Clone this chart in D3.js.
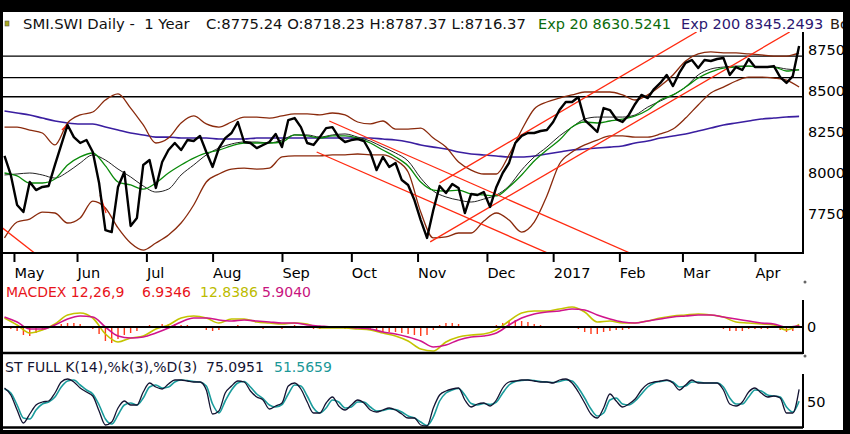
<!DOCTYPE html>
<html>
<head>
<meta charset="utf-8">
<script src="https://cdn.jsdelivr.net/npm/d3@7"></script>
<style>
body { margin: 0; background: #000; }
svg { display: block; font-family: "DejaVu Sans", Verdana, sans-serif; }
text { white-space: pre; }
</style>
</head>
<body>
<svg width="850" height="434"></svg>
<script>
// trading-day index 0 = 27 Apr 2016, closes read every 2 trading days
var closeStep = 2;
var closes = [
  8104, 7988, 7805, 7762, 7945, 7896, 7915, 7921, 8049, 8171,
  8293, 8219, 8183, 8201, 8128, 7939, 7652, 7640, 7915, 8006,
  7677, 7726, 8049, 8079, 7909, 8067, 8140, 8183, 8140, 8201,
  8195, 8226, 8128, 8037, 8152, 8213, 8244, 8311, 8189, 8183,
  8152, 8171, 8189, 8238, 8158, 8323, 8335, 8280, 8183, 8171,
  8219, 8274, 8280, 8219, 8189, 8201, 8207, 8195, 8128, 8018,
  8098, 8037, 8061, 7957, 7927, 7835, 7713, 7604, 7774, 7921,
  7878, 7933, 7909, 7756, 7872, 7866, 7884, 7793, 7915, 8000,
  8061, 8183, 8226, 8244, 8244, 8256, 8262, 8311, 8384, 8433,
  8433, 8463, 8323, 8287, 8250, 8396, 8384, 8329, 8311, 8354,
  8421, 8476, 8457, 8512, 8549, 8598, 8530, 8610, 8671, 8689,
  8640, 8689, 8683, 8695, 8701, 8598, 8646, 8628, 8695, 8646,
  8646, 8646, 8652, 8585, 8549, 8591, 8775
];

// smooth overlays read every 4 trading days
var bandStep = 4;
var bbUpper = [
  8280, 8280, 8262, 8244, 8171, 8305, 8354, 8372, 8445, 8482,
  8396, 8293, 8183, 8213, 8305, 8348, 8299, 8280, 8311, 8341,
  8341, 8335, 8348, 8360, 8360, 8354, 8366, 8354, 8311, 8299,
  8317, 8268, 8268, 8274, 8213, 8158, 8067, 8018, 7994, 7994,
  8110, 8262, 8390, 8433, 8457, 8476, 8494, 8494, 8494, 8476,
  8445, 8476, 8530, 8598, 8683, 8726, 8738, 8732, 8732, 8726,
  8720, 8713, 8713, 8732
];
var bbLower = [
  7604, 7701, 7719, 7762, 7756, 7695, 7726, 7829, 7787, 7665,
  7573, 7530, 7573, 7622, 7695, 7805, 7945, 7994, 8024, 8030,
  8024, 8030, 8098, 8104, 8104, 8104, 8110, 8110, 8116, 8110,
  8110, 8079, 8006, 7762, 7604, 7610, 7634, 7634, 7707, 7756,
  7713, 7640, 7701, 7860, 8055, 8128, 8171, 8201, 8226, 8226,
  8219, 8219, 8238, 8268, 8335, 8415, 8488, 8524, 8561, 8585,
  8585, 8579, 8567, 8524
];
var bbMiddle = [
  7988, 7994, 8000, 7988, 7969, 8006, 8061, 8110, 8079, 8024,
  7976, 7921, 7884, 7902, 7988, 8049, 8110, 8152, 8177, 8189,
  8189, 8183, 8201, 8232, 8232, 8219, 8232, 8238, 8219, 8195,
  8158, 8122, 8073, 7969, 7890, 7854, 7835, 7823, 7841, 7866,
  7921, 8018, 8098, 8158, 8226, 8280, 8329, 8341, 8341, 8341,
  8354, 8402, 8439, 8476, 8524, 8598, 8634, 8646, 8652, 8652,
  8646, 8646, 8634, 8628
];
var ema20 = [
  8000, 7982, 7939, 7939, 7963, 8049, 8098, 8122, 8043, 7945,
  7927, 7902, 7939, 8000, 8049, 8091, 8122, 8140, 8165, 8183,
  8183, 8183, 8189, 8232, 8226, 8213, 8226, 8226, 8213, 8183,
  8140, 8098, 8043, 7945, 7896, 7890, 7896, 7872, 7866, 7860,
  7915, 7988, 8073, 8140, 8201, 8280, 8311, 8305, 8317, 8329,
  8348, 8384, 8445, 8476, 8524, 8579, 8616, 8640, 8646, 8652,
  8646, 8646, 8622, 8631
];
var ema200 = [
  8378, 8366, 8354, 8335, 8317, 8305, 8299, 8299, 8280, 8262,
  8244, 8232, 8219, 8219, 8213, 8213, 8213, 8207, 8207, 8207,
  8213, 8213, 8213, 8213, 8213, 8213, 8213, 8213, 8213, 8213,
  8207, 8201, 8189, 8171, 8158, 8146, 8128, 8116, 8110, 8104,
  8098, 8098, 8104, 8116, 8128, 8140, 8146, 8152, 8158, 8165,
  8183, 8195, 8213, 8226, 8238, 8256, 8274, 8293, 8305, 8317,
  8329, 8335, 8341, 8345
];

// MACD lines (every 4 days) and histogram (every 2 days)
var macdLine = [
  45, 10, -30, -15, 15, 60, 70, 45, -35, -75,
  -55, -45, -10, 10, 45, 55, 45, 20, 40, 40,
  25, 20, 15, 20, 15, -5, -5, -5, -10, -15,
  -30, -45, -70, -110, -120, -75, -50, -40, -35, -15,
  30, 70, 80, 80, 90, 100, 75, 25, 30, 20,
  20, 30, 45, 55, 60, 65, 60, 50, 25, 20,
  15, 10, -15, 12.84
];
var macdSignal = [
  50, 25, -10, -10, 10, 40, 55, 50, 0, -45,
  -55, -50, -30, -5, 25, 45, 45, 35, 30, 35,
  30, 25, 20, 20, 10, 5, 0, 0, -5, -10,
  -25, -35, -50, -70, -100, -90, -65, -50, -45, -30,
  10, 45, 65, 75, 80, 90, 85, 60, 40, 25,
  20, 30, 40, 50, 55, 60, 60, 50, 40, 30,
  20, 15, 0, 5.90
];
var macdHist = [
  -5, -10, -20, -40, -45, -30, -15, -5, 5, 15,
  20, 20, 15, 5, -10, -35, -70, -80, -60, -40,
  -30, -20, -5, 10, 5, 15, 15, 15, 10, 10,
  5, 0, -15, -20, -15, -5, 5, 10, 0, -5,
  -5, -10, -5, -5, -10, 5, 10, 5, -5, -10,
  -10, -5, 0, -5, -10, -10, -5, -10, -15, -25,
  -25, -25, -25, -30, -35, -40, -45, -40, -15, 10,
  20, 20, 15, 0, 5, 5, 5, 0, 10, 20,
  30, 35, 30, 25, 15, 10, 5, 5, 5, 5,
  0, -10, -25, -35, -35, -25, -20, -15, -15, -10,
  -5, 0, 0, 5, 5, 5, 0, 5, 5, 5,
  0, 0, 0, -5, -10, -20, -20, -20, -10, -10,
  -10, -10, -5, -15, -25, -20, 7
];

// full stochastic (every 2 days)
var stochK = [
  78, 64, 34, 8, 26, 44, 50, 52, 68, 90,
  96, 90, 78, 70, 62, 32, 4, 10, 38, 52,
  44, 44, 70, 88, 80, 76, 86, 94, 94, 92,
  90, 90, 74, 26, 32, 68, 82, 92, 90, 72,
  60, 54, 36, 42, 48, 82, 88, 76, 50, 28,
  28, 48, 60, 42, 34, 44, 54, 48, 34, 30,
  34, 38, 34, 26, 18, 18, 4, 2, 38, 64,
  72, 76, 78, 54, 40, 46, 48, 42, 54, 78,
  90, 92, 94, 94, 92, 90, 90, 88, 94, 96,
  88, 70, 48, 26, 18, 38, 66, 52, 40, 46,
  56, 74, 86, 90, 92, 94, 88, 74, 84, 94,
  88, 88, 88, 88, 74, 46, 42, 50, 70, 78,
  68, 60, 62, 58, 28, 28, 75.1
];
var stochD = [
  76, 68, 44, 18, 16, 34, 46, 50, 60, 80,
  92, 94, 84, 74, 66, 44, 16, 6, 24, 44,
  48, 44, 58, 80, 84, 78, 80, 90, 94, 93,
  91, 90, 82, 46, 28, 52, 74, 88, 91, 80,
  66, 57, 44, 40, 45, 66, 84, 82, 62, 38,
  28, 38, 54, 50, 38, 40, 50, 50, 40, 32,
  33, 36, 35, 30, 22, 18, 10, 3, 20, 52,
  68, 74, 77, 64, 47, 44, 47, 45, 50, 68,
  84, 91, 93, 94, 93, 91, 90, 89, 91, 94,
  92, 78, 58, 36, 22, 28, 54, 58, 46, 44,
  52, 66, 80, 88, 91, 93, 90, 80, 82, 90,
  90, 88, 88, 88, 80, 58, 46, 46, 60, 74,
  72, 64, 62, 60, 40, 30, 51.6
];

var monthDays = [3, 23, 45, 66, 88, 110, 131, 153, 174, 195, 215, 238];
var monthLabels = ["May", "Jun", "Jul", "Aug", "Sep", "Oct", "Nov", "Dec", "2017", "Feb", "Mar", "Apr"];
var priceTicks = [7750, 8000, 8250, 8500, 8750];
var levels = [8713, 8581, 8465];
// hand drawn trend lines, [day, price] end points
var trendLines = [
  [[-1, 7670], [10, 7505]],
  [[103, 8317], [198, 7515]],
  [[99, 8128], [172.5, 7510]],
  [[135, 7580], [249, 8860]],
  [[138, 7940], [219.5, 8860]],
  [[18.2, 8262], [20.1, 8299]],
  [[30.3, 7866], [32.2, 7756]]
];

var svg = d3.select("svg");
var font = "DejaVu Sans, Verdana, sans-serif";

var x = d3.scaleLinear().domain([0, 252]).range([4.5, 799.1]);
var yPrice = d3.scaleLinear().domain([7750, 8750]).range([214, 50]);
var yMacd = d3.scaleLinear().domain([-130, 135]).range([353, 300]);
var yStoch = d3.scaleLinear().domain([0, 100]).range([427, 377]);

function seriesLine(step, yScale, curve) {
  return d3.line()
    .x(function(d, i) { return x(i * step); })
    .y(function(d) { return yScale(d); })
    .curve(curve || d3.curveLinear);
}

svg.append("rect").attr("width", 850).attr("height", 434).attr("fill", "#000");
svg.append("rect").attr("x", 3).attr("y", 12).attr("width", 840).attr("height", 418).attr("fill", "#fff");

svg.append("clipPath").attr("id", "mainClip")
  .append("rect").attr("x", 3).attr("y", 32).attr("width", 800).attr("height", 221);

// ---- price panel
var g = svg.append("g").attr("clip-path", "url(#mainClip)");

g.selectAll(".level").data(levels).join("line")
  .attr("class", "level")
  .attr("x1", 3).attr("x2", 803)
  .attr("y1", function(d) { return yPrice(d); })
  .attr("y2", function(d) { return yPrice(d); })
  .attr("stroke", "#000").attr("stroke-width", 1.3);

g.append("path").datum(ema200)
  .attr("d", seriesLine(bandStep, yPrice, d3.curveMonotoneX))
  .attr("fill", "none").attr("stroke", "#3a1ea0").attr("stroke-width", 1.6);

[bbUpper, bbLower].forEach(function(band) {
  g.append("path").datum(band)
    .attr("d", seriesLine(bandStep, yPrice, d3.curveMonotoneX))
    .attr("fill", "none").attr("stroke", "#8a2a0c").attr("stroke-width", 1.3);
});

g.append("path").datum(bbMiddle)
  .attr("d", seriesLine(bandStep, yPrice, d3.curveMonotoneX))
  .attr("fill", "none").attr("stroke", "#222").attr("stroke-width", 1);

g.append("path").datum(ema20)
  .attr("d", seriesLine(bandStep, yPrice, d3.curveMonotoneX))
  .attr("fill", "none").attr("stroke", "#0a8a0a").attr("stroke-width", 1.3);

g.selectAll(".trend").data(trendLines).join("path")
  .attr("class", "trend")
  .attr("d", d3.line().x(function(p) { return x(p[0]); }).y(function(p) { return yPrice(p[1]); }))
  .attr("fill", "none").attr("stroke", "#ff2a10").attr("stroke-width", 1.3);

g.append("path").datum(closes)
  .attr("d", seriesLine(closeStep, yPrice))
  .attr("fill", "none").attr("stroke", "#000").attr("stroke-width", 2.4)
  .attr("stroke-linejoin", "round");

// ---- MACD panel
svg.append("g").selectAll("rect").data(macdHist).join("rect")
  .attr("x", function(d, i) { return x(i * closeStep) - 0.7; })
  .attr("width", 1.4)
  .attr("y", function(d) { return Math.min(yMacd(d), yMacd(0)); })
  .attr("height", function(d) { return Math.abs(yMacd(d) - yMacd(0)); })
  .attr("fill", "#ff3a1a");

svg.append("path").datum(macdLine)
  .attr("d", seriesLine(bandStep, yMacd, d3.curveMonotoneX))
  .attr("fill", "none").attr("stroke", "#c4c400").attr("stroke-width", 1.6);
svg.append("path").datum(macdSignal)
  .attr("d", seriesLine(bandStep, yMacd, d3.curveMonotoneX))
  .attr("fill", "none").attr("stroke", "#d0148c").attr("stroke-width", 1.6);

// ---- stochastic panel
svg.append("path").datum(stochD)
  .attr("d", seriesLine(closeStep, yStoch, d3.curveMonotoneX))
  .attr("fill", "none").attr("stroke", "#1a9c9c").attr("stroke-width", 1.6);
svg.append("path").datum(stochK)
  .attr("d", seriesLine(closeStep, yStoch, d3.curveMonotoneX))
  .attr("fill", "none").attr("stroke", "#141432").attr("stroke-width", 1.3);

// ---- frame lines
var frame = [
  [3, 253, 803, 253, 2.2], [803, 32, 803, 254, 2],
  [3, 327, 803, 327, 2.2], [3, 353, 803, 353, 2.4], [803, 300, 803, 354, 2],
  [3, 427.5, 803, 427.5, 2.4], [803, 374, 803, 428, 2]
];
svg.selectAll(".frame").data(frame).join("line")
  .attr("class", "frame")
  .attr("x1", function(d) { return d[0]; }).attr("y1", function(d) { return d[1]; })
  .attr("x2", function(d) { return d[2]; }).attr("y2", function(d) { return d[3]; })
  .attr("stroke", "#000").attr("stroke-width", function(d) { return d[4]; });

svg.selectAll(".dot").data([282, 356]).join("circle")
  .attr("class", "dot").attr("cx", 805).attr("cy", function(d) { return d; })
  .attr("r", 1.5).attr("fill", "#666");

// ---- axes
function styleAxis(sel) {
  sel.attr("font-size", 14.5).attr("font-family", font);
  sel.select(".domain").remove();
  sel.selectAll(".tick text").attr("fill", "#000");
}

svg.append("g").attr("transform", "translate(0,253)")
  .call(d3.axisBottom(x).tickValues(monthDays)
    .tickFormat(function(d, i) { return monthLabels[i]; }).tickSize(9))
  .call(styleAxis)
  .call(function(a) {
    a.selectAll(".tick line").attr("stroke", "#000").attr("stroke-width", 2);
    a.selectAll(".tick text").attr("text-anchor", "start").attr("x", 0).attr("y", 15);
  });

svg.append("g").attr("transform", "translate(803,0)")
  .call(d3.axisRight(yPrice).tickValues(priceTicks).tickSize(0).tickPadding(5).tickFormat(d3.format("d")))
  .call(styleAxis);
svg.append("g").attr("transform", "translate(803,0)")
  .call(d3.axisRight(yMacd).tickValues([0]).tickSize(0).tickPadding(4))
  .call(styleAxis);
svg.append("g").attr("transform", "translate(803,0)")
  .call(d3.axisRight(yStoch).tickValues([50]).tickSize(0).tickPadding(4))
  .call(styleAxis);

// ---- titles
var titles = [
  { t: "SMI.SWI Daily -  1 Year", x: 23, y: 29, c: "#111", s: 14.8 },
  { t: "C:8775.24 O:8718.23 H:8787.37 L:8716.37", x: 206, y: 29, c: "#111", s: 14.8 },
  { t: "Exp 20 8630.5241", x: 538, y: 29, c: "#0b6b0b", s: 14.5 },
  { t: "Exp 200 8345.2493", x: 681, y: 29, c: "#2b1670", s: 14.5 },
  { t: "Bo", x: 830, y: 29, c: "#2a1a10", s: 14.5 },
  { t: "MACDEX 12,26,9", x: 6, y: 297, c: "#e8141a", s: 14 },
  { t: "6.9346", x: 142, y: 297, c: "#e8141a", s: 14 },
  { t: "12.8386", x: 200, y: 297, c: "#bcbc00", s: 14 },
  { t: "5.9040", x: 262, y: 297, c: "#c8147e", s: 14 },
  { t: "ST FULL K(14),%k(3),%D(3)", x: 5, y: 372, c: "#141432", s: 14 },
  { t: "75.0951", x: 206, y: 372, c: "#141432", s: 14 },
  { t: "51.5659", x: 274, y: 372, c: "#1a9898", s: 14 }
];
svg.selectAll(".title").data(titles).join("text")
  .attr("class", "title")
  .attr("x", function(d) { return d.x; }).attr("y", function(d) { return d.y; })
  .attr("fill", function(d) { return d.c; })
  .attr("font-size", function(d) { return d.s; })
  .text(function(d) { return d.t; });

svg.append("rect").attr("x", 5).attr("y", 21).attr("width", 4).attr("height", 5)
  .attr("fill", "#a8a820").attr("stroke", "#555").attr("stroke-width", 0.6);

// outer border on top
svg.append("rect").attr("x", 843).attr("y", 0).attr("width", 7).attr("height", 434).attr("fill", "#000");
svg.append("rect").attr("x", 0).attr("y", 430).attr("width", 850).attr("height", 4).attr("fill", "#000");
</script>
</body>
</html>
